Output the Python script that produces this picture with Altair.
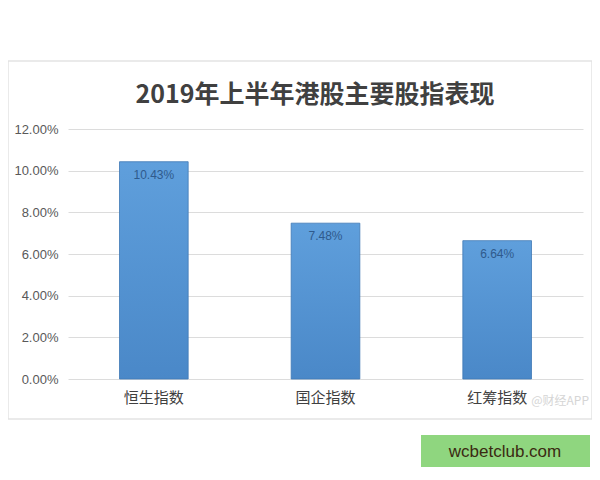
import altair as alt
import pandas as pd

categories = ["恒生指数", "国企指数", "红筹指数"]
values = [0.1043, 0.0748, 0.0664]
y_ticks = [0, 0.02, 0.04, 0.06, 0.08, 0.10, 0.12]
title_text = "2019年上半年港股主要股指表现"
watermark = "@财经APP"
badge_text = "wcbetclub.com"

df = pd.DataFrame({"cat": categories, "val": values})
one = pd.DataFrame({"k": [0]})

FONT = "Noto Sans CJK SC"

x = alt.X("cat:N", sort=categories, title=None,
          scale=alt.Scale(paddingInner=0.6, paddingOuter=0.3),
          axis=alt.Axis(labelAngle=0, labelFontSize=15, labelColor="#404040",
                        labelFont=FONT, labelPadding=11, domain=False, ticks=False))
y = alt.Y("val:Q", title=None,
          scale=alt.Scale(domain=[0, 0.12]),
          axis=alt.Axis(values=y_ticks, format=".2%", labelFontSize=13,
                        labelColor="#595959", labelFont="Liberation Sans",
                        labelPadding=10, domain=False, ticks=False,
                        gridColor="#dcdcdc", gridWidth=1))

border = alt.Chart(one).mark_rect(filled=False, stroke="#e3e3e3", strokeWidth=1.5).encode(
    x=alt.value(-60), x2=alt.value(524), y=alt.value(-68), y2=alt.value(290))

bars = alt.Chart(df).mark_bar(
    color=alt.Gradient(gradient="linear", x1=0, y1=0, x2=0, y2=1,
                       stops=[alt.GradientStop(color="#5f9fdc", offset=0),
                              alt.GradientStop(color="#4a88c8", offset=1)]),
    stroke="#3f79b5", strokeWidth=0.8
).encode(x=x, y=y)

labels = alt.Chart(df).mark_text(dy=13, baseline="middle", fontSize=12,
                                 color="#2f5a8c", font="Liberation Sans").encode(
    x=alt.X("cat:N", sort=categories), y="val:Q",
    text=alt.Text("val:Q", format=".2%"))

title = alt.Chart(one).mark_text(text=title_text, fontSize=25, fontWeight="bold",
                                 color="#404040", font=FONT, baseline="middle",
                                 align="center").encode(
    x=alt.value(247), y=alt.value(-34))

wm = alt.Chart(one).mark_text(text=watermark, fontSize=12, color="#cccccc",
                              opacity=0.8, font=FONT, align="right",
                              baseline="middle").encode(
    x=alt.value(521), y=alt.value(22 + 250))

badge = alt.Chart(one).mark_rect(fill="#8fd67f").encode(
    x=alt.value(353), x2=alt.value(522), y=alt.value(306), y2=alt.value(339))

badge_t = alt.Chart(one).mark_text(text=badge_text, fontSize=17, color="#3b2a12",
                                   font="Liberation Sans", align="center",
                                   baseline="middle").encode(
    x=alt.value(437), y=alt.value(323))

chart = alt.layer(border, bars, labels, title, wm, badge, badge_t).properties(
    width=515, height=250,
    autosize=alt.AutoSizeParams(type="none"),
    padding={"left": 60, "top": 121, "right": 9, "bottom": 88},
    background="white"
).configure_view(stroke=None)

chart.save("out.html", embed_options={"renderer": "svg", "actions": False})
